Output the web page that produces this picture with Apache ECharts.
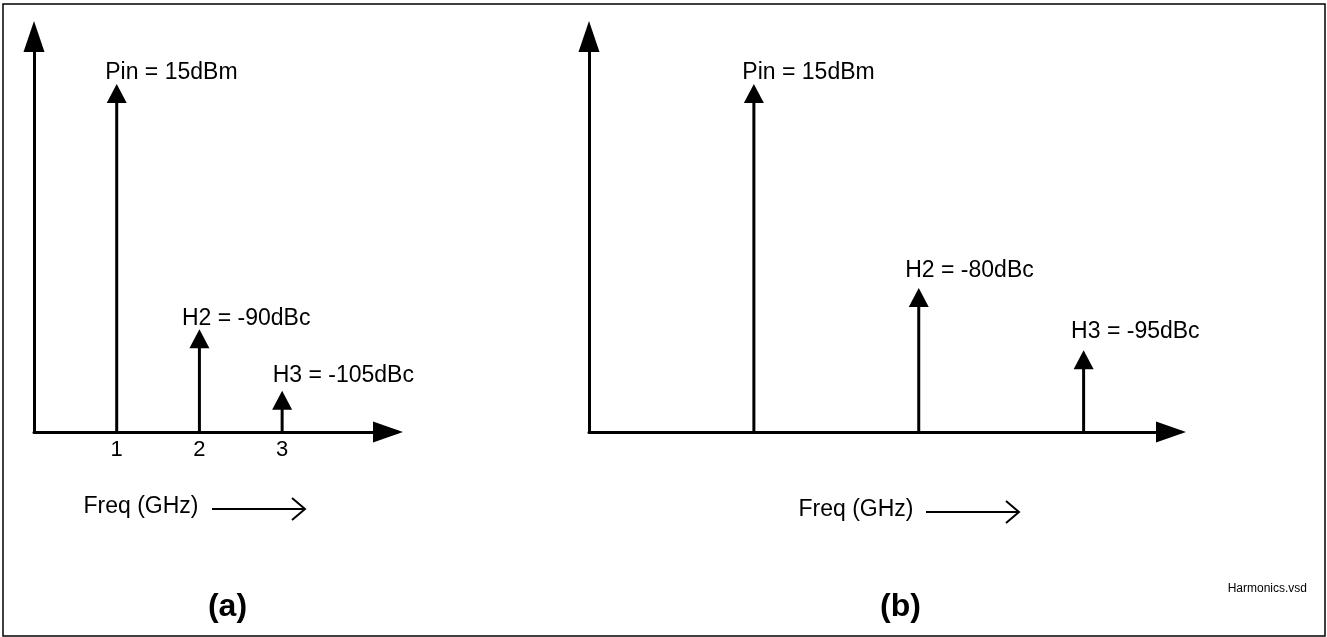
<!DOCTYPE html>
<html><head><meta charset="utf-8">
<script src="https://cdn.jsdelivr.net/npm/echarts@6/dist/echarts.min.js"></script>
<style>html,body{margin:0;padding:0;background:#fff}#c{width:1327px;height:637px}</style>
</head><body><div id="c"></div>
<script>
// ---- data ----
const freqA = [1, 2, 3];
const levelA = [88, 26, 10.4];
const labelsA = ['Pin = 15dBm', 'H2 = -90dBc', 'H3 = -105dBc'];
const tickLabelsA = [1, 2, 3];
const freqB = [1, 2, 3];
const levelB = [88, 36.4, 20.7];
const labelsB = ['Pin = 15dBm', 'H2 = -80dBc', 'H3 = -95dBc'];
const panelTitles = ['(a)', '(b)'];
const axisName = 'Freq (GHz)';
const fileName = 'Harmonics.vsd';

// ---- layout / style ----
const FONT = '"Liberation Sans", Arial, sans-serif';
const labelNudgeA = [[-11.5, 11.5], [-17.5, 11], [-9.5, 15]];
const labelNudgeB = [[-11.5, 11.5], [-13.5, 17], [-12.5, 18]];

function makeRender(labels, nudges) {
  return function (params, api) {
    const i = params.dataIndex;
    const x = api.value(0);
    const base = api.coord([x, 0]);
    const tip = api.coord([x, api.value(1)]);
    const hw = 10, hh = 19;
    return {
      type: 'group',
      children: [
        { type: 'line', shape: { x1: base[0], y1: base[1], x2: tip[0], y2: tip[1] + hh - 1 },
          style: { stroke: '#000', lineWidth: 3 } },
        { type: 'polygon', shape: { points: [[tip[0], tip[1]], [tip[0] - hw, tip[1] + hh], [tip[0] + hw, tip[1] + hh]] },
          style: { fill: '#000' } },
        { type: 'text', x: tip[0] + nudges[i][0], y: tip[1] - nudges[i][1],
          style: { text: labels[i], fill: '#000', fontSize: 23, fontFamily: FONT, align: 'left', verticalAlign: 'middle' } }
      ]
    };
  };
}

function axisLineStyle(size) {
  return { show: true, onZero: false, symbol: ['none', 'triangle'], symbolSize: size,
    lineStyle: { color: '#000', width: 3 } };
}

function freqArrow(x1, x2, y) {
  return [
    { type: 'line', shape: { x1: x1, y1: y, x2: x2 - 1, y2: y }, style: { stroke: '#000', lineWidth: 2 } },
    { type: 'polyline', shape: { points: [[x2 - 13, y - 11], [x2, y], [x2 - 13, y + 11]] },
      style: { stroke: '#000', lineWidth: 2, fill: null } }
  ];
}

const chart = echarts.init(document.getElementById('c'), null, { renderer: 'canvas' });
chart.setOption({
  backgroundColor: '#fff',
  animation: false,
  grid: [
    { left: 34, top: 36.5, width: 354, height: 395.5 },
    { left: 589, top: 36.5, width: 582, height: 395.5 }
  ],
  xAxis: [
    { type: 'value', gridIndex: 0, min: 0, max: 4.28, interval: 1,
      axisLine: axisLineStyle([21, 30]), axisTick: { show: false }, splitLine: { show: false },
      axisLabel: { color: '#000', fontSize: 22, fontFamily: FONT, margin: 7,
        formatter: v => tickLabelsA.indexOf(v) >= 0 ? String(v) : '' } },
    { type: 'value', gridIndex: 1, min: 0, max: 3.53,
      axisLine: axisLineStyle([21, 30]), axisTick: { show: false }, splitLine: { show: false },
      axisLabel: { show: false } }
  ],
  yAxis: [
    { type: 'value', gridIndex: 0, min: 0, max: 100,
      axisLine: axisLineStyle([21, 31]), axisTick: { show: false }, splitLine: { show: false },
      axisLabel: { show: false } },
    { type: 'value', gridIndex: 1, min: 0, max: 100,
      axisLine: axisLineStyle([21, 31]), axisTick: { show: false }, splitLine: { show: false },
      axisLabel: { show: false } }
  ],
  series: [
    { type: 'custom', name: 'a', xAxisIndex: 0, yAxisIndex: 0, clip: false,
      data: freqA.map((f, i) => [f, levelA[i]]), renderItem: makeRender(labelsA, labelNudgeA) },
    { type: 'custom', name: 'b', xAxisIndex: 1, yAxisIndex: 1, clip: false,
      data: freqB.map((f, i) => [f, levelB[i]]), renderItem: makeRender(labelsB, labelNudgeB) }
  ],
  graphic: [
    { type: 'rect', shape: { x: 3, y: 4, width: 1322, height: 632 }, style: { stroke: '#000', lineWidth: 1.5, fill: null }, silent: true },
    { type: 'text', x: 83.5, y: 507, style: { text: axisName, fill: '#000', fontSize: 23, fontFamily: FONT, align: 'left', verticalAlign: 'middle' } },
    { type: 'group', children: freqArrow(212, 305, 509) },
    { type: 'text', x: 798.5, y: 510, style: { text: axisName, fill: '#000', fontSize: 23, fontFamily: FONT, align: 'left', verticalAlign: 'middle' } },
    { type: 'group', children: freqArrow(926, 1019, 512) },
    { type: 'text', x: 227.5, y: 607, style: { text: panelTitles[0], fill: '#000', fontSize: 32, fontWeight: 'bold', fontFamily: FONT, align: 'center', verticalAlign: 'middle' } },
    { type: 'text', x: 900.5, y: 607, style: { text: panelTitles[1], fill: '#000', fontSize: 32, fontWeight: 'bold', fontFamily: FONT, align: 'center', verticalAlign: 'middle' } },
    { type: 'text', x: 1307, y: 589, style: { text: fileName, fill: '#000', fontSize: 12, fontFamily: FONT, align: 'right', verticalAlign: 'middle' } }
  ]
});
</script>
</body></html>
